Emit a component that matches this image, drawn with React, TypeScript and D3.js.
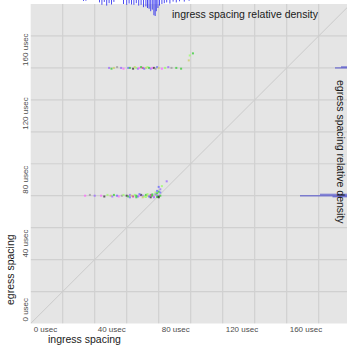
import React from "react";
import * as d3 from "d3";

// ---- data ----
const tickValues = [0, 40, 80, 120, 160];
const gridValues = [20, 40, 60, 80, 100, 120, 140, 160, 180];

// ingress spacing relative density (usec, relative density)
const ingressUsec = [33, 34.5, 43, 44.5, 46, 47.5, 49, 50.5, 52, 58, 60, 61.5, 63, 64.5, 66, 67.5, 69, 70.5, 72, 73, 74, 75, 76, 77, 77.8, 78.5, 79.5, 80.5, 82, 83.5, 85, 87, 89, 91, 93, 96, 99];
const ingressDensity = [0.06, 0.05, 0.15, 0.3, 0.12, 0.35, 0.2, 0.28, 0.12, 0.25, 0.3, 0.22, 0.28, 0.3, 0.2, 0.35, 0.3, 0.45, 0.4, 0.5, 0.55, 0.7, 0.6, 0.95, 1.0, 0.7, 0.5, 0.35, 0.25, 0.2, 0.15, 0.22, 0.1, 0.15, 0.08, 0.1, 0.05];

// egress spacing relative density (usec, relative density)
const egressUsec = [160.6, 160, 80.8, 80, 79.4];
const egressDensity = [0.18, 0.3, 0.6, 1.0, 0.35];

// scatter points
const pointIngress = [
  49, 50.5, 52, 54, 56.5, 58, 61, 62, 64, 65, 66, 67, 68, 69, 70, 71, 72, 73, 74, 75, 76, 77, 78, 79, 80, 82, 84, 86, 88, 91, 94, 98.8, 99.4, 101.4,
  34, 37, 40, 44, 46, 48, 50, 51, 52, 54, 55, 57, 58, 60, 61, 62, 63, 64, 65, 66, 67, 68, 69, 70, 71, 72, 73, 74, 75, 76, 77, 78, 79, 80, 81,
  62, 66, 70, 72, 75, 77, 79, 68, 73, 76, 78, 80,
  78, 80, 79, 81, 80, 82, 85, 79, 81
];
const pointEgress = [
  160, 159.5, 160, 160.5, 160, 159.5, 160, 160, 159.5, 160.5, 160, 159.5, 160, 160.5, 160, 159.5, 160, 160.5, 160, 159.5, 160, 160, 159.5, 160.5, 160, 159.5, 160, 160.5, 160, 160, 159.5, 164.7, 167.8, 169.1,
  80, 80.5, 80, 80, 79.5, 80.5, 80, 79.5, 80.5, 80, 79.5, 80, 80.5, 80, 79.5, 80.5, 80, 79.5, 80.5, 80, 79.5, 80, 80.5, 80, 79.5, 80.5, 80, 79.5, 80.5, 80, 79.5, 80.5, 80, 79.5, 80,
  79, 79, 79, 79.2, 79, 79, 79.2, 81, 81, 80.8, 81, 79,
  82, 82.5, 83, 84, 85.5, 86, 89, 81.5, 82
];
const pointGroup = [
  2, 1, 3, 4, 2, 0, 6, 1, 5, 3, 7, 2, 0, 1, 8, 6, 3, 7, 1, 2, 0, 5, 4, 6, 3, 0, 7, 2, 4, 1, 1, 3, 7, 1,
  0, 4, 2, 0, 5, 7, 3, 2, 1, 6, 0, 4, 7, 5, 1, 2, 3, 8, 7, 1, 6, 0, 5, 2, 7, 1, 3, 6, 8, 1, 0, 7, 2, 5, 1,
  6, 1, 3, 7, 5, 2, 1, 6, 7, 1, 2, 5,
  7, 1, 6, 2, 6, 7, 2, 1, 6
];
const palette = ["#ff66ff", "#33cc33", "#9966ff", "#cccc66", "#999999", "#333333", "#6666ff", "#99ff66", "#cc3399"];

export default function App() {
  const W = 347;
  const H = 349;
  const x = d3.scaleLinear().domain([0, 200]).range([30.7, 350.7]);
  const y = d3.scaleLinear().domain([0, 200]).range([323.5, 4]);
  const ingressDepth = d3.scaleLinear().domain([0, 1]).range([0, 16]);
  const egressLen = d3.scaleLinear().domain([0, 1]).range([0, 50]);
  const egressRight = 350;
  const font = "Liberation Sans, Arial, sans-serif";

  return (
    <svg width={W} height={H} style={{ position: "absolute", left: 0, top: 0, background: "#fff" }} fontFamily={font}>
      <defs>
        <clipPath id="panel">
          <rect x={x(0)} y={y(200)} width={x(200) - x(0)} height={y(0) - y(200)} />
        </clipPath>
      </defs>
      <rect x={x(0)} y={y(200)} width={x(200) - x(0)} height={y(0) - y(200)} fill="#e5e5e5" />
      <g clipPath="url(#panel)">
        {gridValues.map((v) => (
          <line key={"gx" + v} x1={x(v)} x2={x(v)} y1={y(0)} y2={y(200)} stroke="#d0d0d0" strokeWidth={1.2} />
        ))}
        {gridValues.map((v) => (
          <line key={"gy" + v} x1={x(0)} x2={x(200)} y1={y(v)} y2={y(v)} stroke="#d0d0d0" strokeWidth={1.2} />
        ))}
        <line x1={x(0)} y1={y(0)} x2={x(200)} y2={y(200)} stroke="#cacaca" strokeWidth={1} />
      </g>
      {pointIngress.map((px, i) => (
        <rect key={"p" + i} x={x(px) - 1} y={y(pointEgress[i]) - 1} width={2} height={2} fill={palette[pointGroup[i]]} opacity={0.75} />
      ))}
      {ingressUsec.map((u, i) => (
        <line key={"ig" + i} x1={x(u)} x2={x(u)} y1={0} y2={ingressDepth(ingressDensity[i])} stroke="#1a1aee" strokeWidth={0.9} opacity={0.85} />
      ))}
      {egressUsec.map((u, i) => (
        <line key={"eg" + i} x1={egressRight - egressLen(egressDensity[i])} x2={egressRight} y1={y(u)} y2={y(u)} stroke="#4444cc" strokeWidth={1.5} opacity={0.6} />
      ))}
      {tickValues.map((v) => (
        <text key={"tx" + v} x={x(v) + 3} y={332} fontSize={8} fill="#4d4d4d">{v} usec</text>
      ))}
      {tickValues.map((v) => (
        <text key={"ty" + v} transform={`translate(27.5,${y(v) - 2}) rotate(-90)`} fontSize={8} fill="#4d4d4d">{v} usec</text>
      ))}
      <text x={48} y={343} fontSize={10.5} fill="#1a1a1a">ingress spacing</text>
      <text transform="translate(14,305) rotate(-90)" fontSize={10.5} fill="#1a1a1a">egress spacing</text>
      <text x={172} y={18} fontSize={10.5} fill="#1a1a1a">ingress spacing relative density</text>
      <text transform="translate(337,80) rotate(90)" fontSize={10.5} fill="#1a1a1a">egress spacing relative density</text>
    </svg>
  );
}
